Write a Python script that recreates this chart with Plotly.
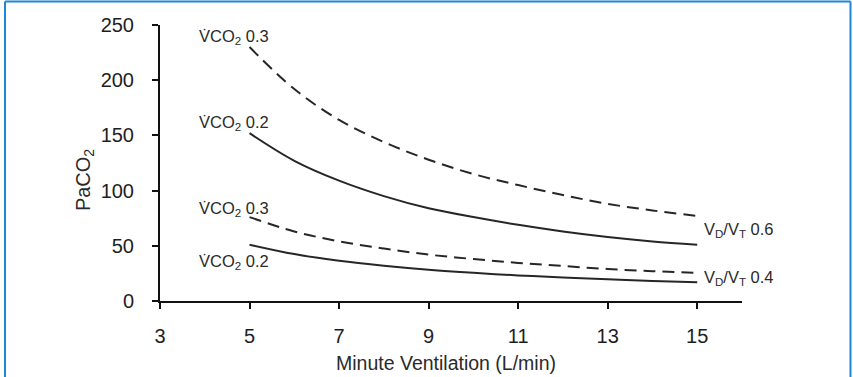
import plotly.graph_objects as go

# Minute ventilation (L/min)
ve = [5, 6, 7, 8, 9, 10, 11, 12, 13, 14, 15]
# PaCO2 readings
vco2_03_vdvt_06 = [230, 192, 164, 144, 128, 115, 105, 96, 88, 82, 77]
vco2_02_vdvt_06 = [152, 127, 109, 95, 84, 76, 69, 63, 58, 54, 51]
vco2_03_vdvt_04 = [76, 63, 54, 47.5, 42, 38, 34.5, 31.7, 29, 27, 25.5]
vco2_02_vdvt_04 = [51, 42.5, 36.4, 31.9, 28.3, 25.5, 23.2, 21.3, 19.6, 18.2, 17]

x_ticks = [3, 5, 7, 9, 11, 13, 15]
y_ticks = [0, 50, 100, 150, 200, 250]

FONT = "Liberation Sans, Arial, sans-serif"
LINE = "#262626"

fig = go.Figure()
series = [
    (vco2_03_vdvt_06, "12px,7px"),
    (vco2_02_vdvt_06, "solid"),
    (vco2_03_vdvt_04, "12px,7px"),
    (vco2_02_vdvt_04, "solid"),
]
for ys, dash in series:
    fig.add_trace(go.Scatter(x=ve, y=ys, mode="lines", line=dict(color=LINE, width=2, dash=dash, shape="spline"),
                             showlegend=False, hoverinfo="skip"))

labels = [
    (3.83, 239, "V\u0307CO<sub>2</sub> 0.3"),
    (3.83, 161, "V\u0307CO<sub>2</sub> 0.2"),
    (3.83, 83, "V\u0307CO<sub>2</sub> 0.3"),
    (3.83, 35, "V\u0307CO<sub>2</sub> 0.2"),
    (15.1, 64, "V<sub>D</sub>/V<sub>T</sub> 0.6"),
    (15.1, 21, "V<sub>D</sub>/V<sub>T</sub> 0.4"),
]
annotations = [dict(x=x, y=y, xref="x", yref="y", text=t, showarrow=False, xanchor="left", yanchor="middle",
                    font=dict(family=FONT, size=16.5, color="#2a2a2a")) for x, y, t in labels]
annotations.append(dict(x=-0.1306, y=0.438, xref="paper", yref="paper", text="PaCO<sub>2</sub>", showarrow=False,
                        textangle=-90, xanchor="center", yanchor="middle",
                        font=dict(family=FONT, size=20, color="#2a2a2a")))
annotations.append(dict(x=0.492, y=-0.225, xref="paper", yref="paper", text="Minute Ventilation (L/min)",
                        showarrow=False, xanchor="center", yanchor="middle",
                        font=dict(family=FONT, size=19.5, color="#2a2a2a")))

border = "#1d87d6"
shapes = [
    dict(type="line", xref="paper", yref="paper", x0=-0.2663, x1=-0.2663, y0=1.0851, y1=-0.3, line=dict(color=border, width=2)),
    dict(type="line", xref="paper", yref="paper", x0=-0.2663, x1=1.1864, y0=1.0851, y1=1.0851, line=dict(color=border, width=2)),
    dict(type="line", xref="paper", yref="paper", x0=1.1864, x1=1.1864, y0=1.0851, y1=-0.3, line=dict(color=border, width=2)),
]

fig.update_layout(
    width=853, height=377,
    margin=dict(l=160, r=111, t=25, b=76),
    plot_bgcolor="white", paper_bgcolor="white",
    annotations=annotations, shapes=shapes,
    xaxis=dict(range=[3, 16], tickvals=x_ticks, ticktext=[str(v) for v in x_ticks],
               showgrid=False, zeroline=False, showline=True, linecolor="#111", linewidth=2,
               ticks="outside", ticklen=6, tickwidth=2, tickcolor="#111", ticklabelstandoff=10,
               tickfont=dict(family=FONT, size=20, color="#1e1e1e")),
    yaxis=dict(range=[0, 250], tickvals=y_ticks, ticktext=[str(v) for v in y_ticks],
               showgrid=False, zeroline=False, showline=True, linecolor="#111", linewidth=2,
               ticks="outside", ticklen=6, tickwidth=2, tickcolor="#111", ticklabelstandoff=14,
               tickfont=dict(family=FONT, size=20, color="#1e1e1e")),
)

fig.write_html("out.html")
